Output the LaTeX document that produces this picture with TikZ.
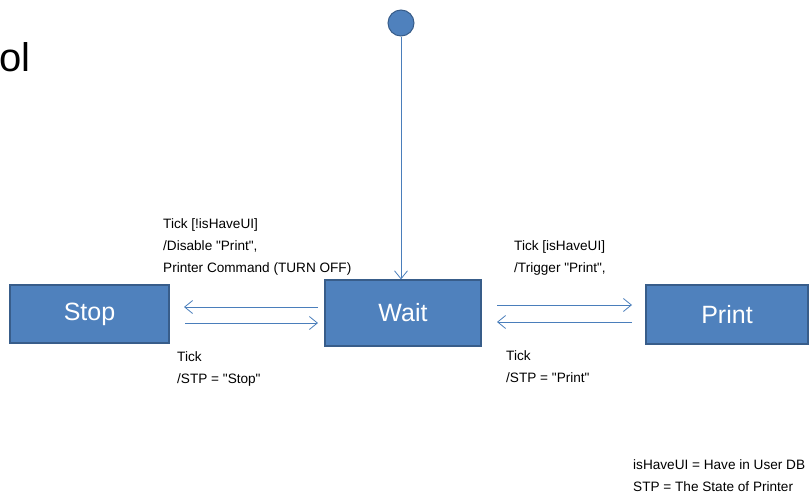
\documentclass[tikz,border=0pt]{standalone}
\usepackage{fontspec}
\setmainfont{Liberation Sans}[Ligatures=TeXOff]
\usetikzlibrary{arrows.meta}
\definecolor{boxfill}{HTML}{4F81BD}
\definecolor{boxline}{HTML}{385D8A}
\definecolor{arrowc}{HTML}{4A7EBB}
\tikzset{
  state/.style={draw=boxline, line width=1.2pt, fill=boxfill, text=white, font=\fontsize{25}{25}\selectfont, inner sep=0pt},
  trans/.style={draw=arrowc, line width=0.8pt, -{Straight Barb[length=8pt,width=13pt]}},
  lbl/.style={anchor=north west, align=left, font=\fontsize{13.6}{22}\selectfont, inner sep=0pt}
}
\begin{document}
\begin{tikzpicture}[x=1pt,y=-1pt]
\useasboundingbox (0,0) rectangle (811,498);
% partial title
\node[anchor=west, inner sep=0pt, font=\fontsize{40}{40}\selectfont] (title) at (-1,57) {ol};
% states
\node[state, minimum width=159pt, minimum height=58pt] (stop) at (89.5,314) {Stop};
\node[state, minimum width=156pt, minimum height=66pt] (wait) at (403,313) {Wait};
\node[state, minimum width=162pt, minimum height=59pt] (print) at (727,314.5) {Print};
% initial
\node[circle, draw=boxline, fill=boxfill, line width=1pt, minimum size=26pt, inner sep=0pt] (init) at (401,23) {};
\draw[trans] (init) -- (wait.north -| init);
% Stop <-> Wait
\coordinate (sw1s) at (318,307); \coordinate (sw1e) at (184,307);
\coordinate (sw2s) at (185,323); \coordinate (sw2e) at (318,323);
\draw[trans] (sw1s) -- (sw1e);
\draw[trans] (sw2s) -- (sw2e);
% Wait <-> Print
\coordinate (wp1s) at (497,305); \coordinate (wp1e) at (632,305);
\coordinate (wp2s) at (632,322); \coordinate (wp2e) at (497,322);
\draw[trans] (wp1s) -- (wp1e);
\draw[trans] (wp2s) -- (wp2e);
% labels
\node[lbl] (l1) at (163,218) {Tick [!isHaveUI]\\/Disable "Print",\\Printer Command (TURN OFF)};
\node[lbl] (l2) at (177,351) {Tick\\/STP = "Stop"};
\node[lbl] (l3) at (514,240) {Tick [isHaveUI]\\/Trigger "Print",};
\node[lbl] (l4) at (506,350) {Tick\\/STP = "Print"};
\node[lbl] (l5) at (633,459) {isHaveUI = Have in User DB\\STP = The State of Printer};
\end{tikzpicture}
\end{document}
